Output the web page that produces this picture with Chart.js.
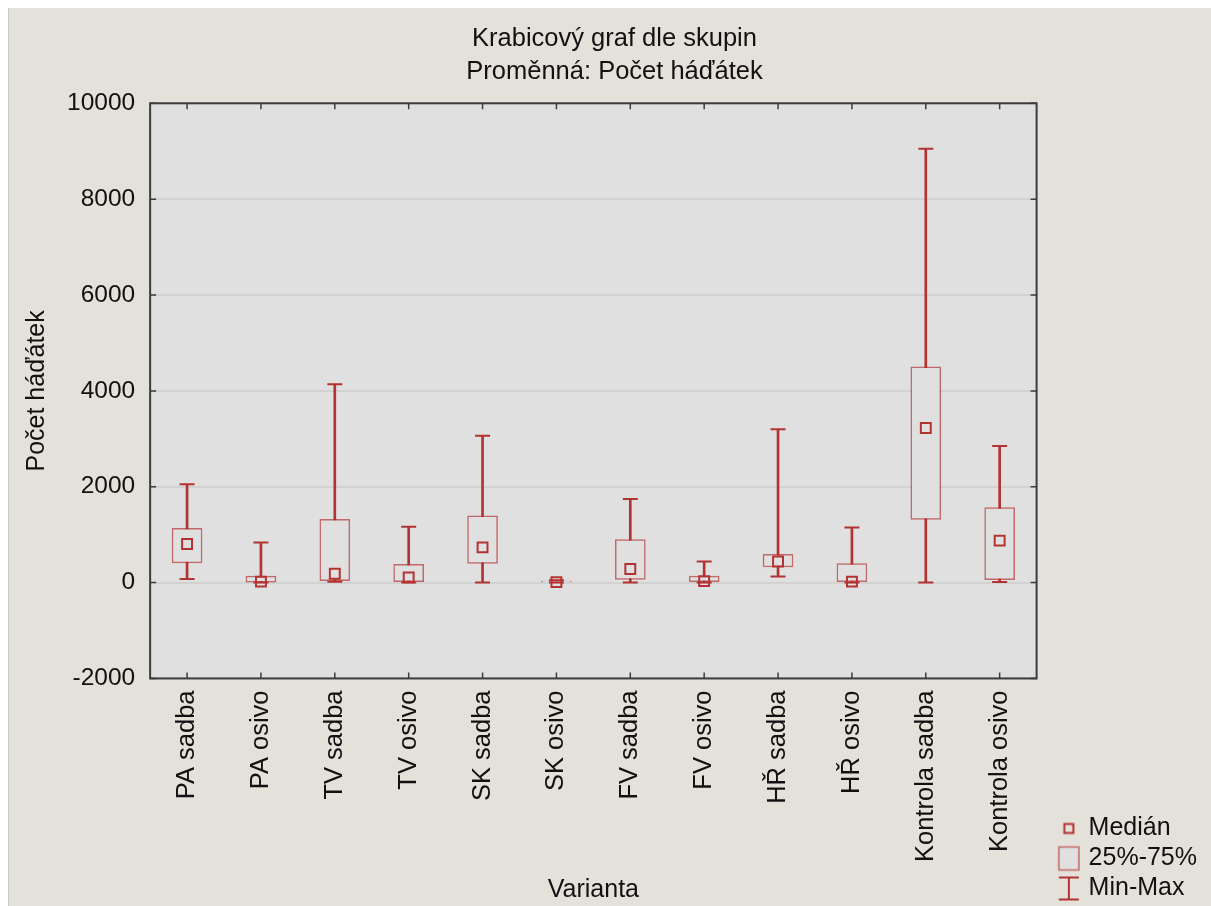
<!DOCTYPE html>
<html>
<head>
<meta charset="utf-8">
<script src="https://cdn.jsdelivr.net/npm/chart.js@4.4.0/dist/chart.umd.min.js"></script>
<style>
  html, body { margin: 0; padding: 0; background: #fff; }
  #wrap { position: absolute; left: 8px; top: 8px; border-left: 1px solid #c9c9c9; background: #e4e1da; }
  canvas { display: block; }
</style>
</head>
<body>
<div id="wrap"><canvas id="boxChart" width="1202" height="898"></canvas></div>
<script>
// values
const categories = ['PA sadba', 'PA osivo', 'TV sadba', 'TV osivo', 'SK sadba', 'SK osivo',
                    'FV sadba', 'FV osivo', 'HŘ sadba', 'HŘ osivo', 'Kontrola sadba', 'Kontrola osivo'];
const minValues = [75, 0, 20, 0, 0, 0, 0, 0, 125, 0, 0, 10];
const q1Values = [410, 10, 40, 0, 400, 0, 65, 0, 325, 0, 1320, 60];
const medianValues = [805, 20, 185, 110, 735, 10, 285, 30, 440, 20, 3225, 875];
const q3Values = [1130, 135, 1320, 380, 1395, 30, 895, 135, 590, 395, 4500, 1565];
const maxValues = [2050, 835, 4140, 1165, 3065, 50, 1745, 440, 3200, 1150, 9050, 2850];
const yTicks = [-2000, 0, 2000, 4000, 6000, 8000, 10000];

const RED = '#b33232';
const BOX_EDGE = 'rgba(176, 40, 40, 0.65)';
const PLOT_BG = '#e0e0e0';
const FRAME = '#3c3c3c';
const TEXT = '#111';
const FONT = '"Liberation Sans", Arial, sans-serif';

// small canvases used as legend symbols
function makeIcon(draw) {
    const c = document.createElement('canvas');
    c.width = 44;
    c.height = 28;
    const ctx = c.getContext('2d');
    ctx.translate(32, 14);
    draw(ctx);
    return c;
}
const medianIcon = makeIcon(ctx => {
    ctx.strokeStyle = RED;
    ctx.lineWidth = 2;
    ctx.strokeRect(-4.5, -4.5, 9, 9);
});
const boxIcon = makeIcon(ctx => {
    ctx.fillStyle = PLOT_BG;
    ctx.fillRect(-10, -11.5, 20, 23);
    ctx.strokeStyle = BOX_EDGE;
    ctx.lineWidth = 1.5;
    ctx.strokeRect(-10, -11.5, 20, 23);
});
const rangeIcon = makeIcon(ctx => {
    ctx.strokeStyle = RED;
    ctx.lineWidth = 2;
    ctx.beginPath();
    ctx.moveTo(-10, -11); ctx.lineTo(10, -11);
    ctx.moveTo(0, -11); ctx.lineTo(0, 11);
    ctx.moveTo(-10, 11); ctx.lineTo(10, 11);
    ctx.stroke();
});

// grey plot background, frame and inward tick marks
const plotFrame = {
    id: 'plotFrame',
    beforeDraw(chart) {
        const { ctx, chartArea: a } = chart;
        ctx.save();
        ctx.fillStyle = PLOT_BG;
        ctx.fillRect(a.left, a.top, a.width, a.height);
        ctx.restore();
    },
    afterDraw(chart) {
        const { ctx, chartArea: a, scales } = chart;
        const tl = 6;
        ctx.save();
        ctx.strokeStyle = FRAME;
        ctx.lineWidth = 1.5;
        ctx.beginPath();
        scales.x.ticks.forEach((t, i) => {
            const px = scales.x.getPixelForTick(i);
            ctx.moveTo(px, a.bottom); ctx.lineTo(px, a.bottom - tl);
            ctx.moveTo(px, a.top); ctx.lineTo(px, a.top + tl);
        });
        scales.y.ticks.forEach((t, i) => {
            const py = scales.y.getPixelForTick(i);
            ctx.moveTo(a.left, py); ctx.lineTo(a.left + tl, py);
            ctx.moveTo(a.right, py); ctx.lineTo(a.right - tl, py);
        });
        ctx.stroke();
        ctx.lineWidth = 2;
        ctx.strokeRect(a.left, a.top, a.width, a.height);
        ctx.restore();
    }
};

new Chart(document.getElementById('boxChart'), {
    type: 'bar',
    data: {
        labels: categories,
        datasets: [
            {
                label: 'Min-Max',
                data: minValues.map((v, i) => [v, maxValues[i]]),
                backgroundColor: RED,
                barThickness: 2,
                grouped: false,
                order: 3
            },
            {
                label: '25%-75%',
                data: q1Values.map((v, i) => [v, q3Values[i]]),
                backgroundColor: PLOT_BG,
                borderColor: BOX_EDGE,
                borderWidth: 1.5,
                borderSkipped: false,
                barThickness: 30,
                grouped: false,
                order: 2
            },
            {
                type: 'line',
                label: 'Min',
                data: minValues,
                showLine: false,
                pointStyle: 'line',
                pointRadius: 7.5,
                borderColor: RED,
                borderWidth: 2,
                order: 1
            },
            {
                type: 'line',
                label: 'Max',
                data: maxValues,
                showLine: false,
                pointStyle: 'line',
                pointRadius: 7.5,
                borderColor: RED,
                borderWidth: 2,
                order: 1
            },
            {
                type: 'line',
                label: 'Medián',
                data: medianValues,
                showLine: false,
                pointStyle: 'rect',
                pointRadius: 7,
                backgroundColor: 'rgba(0,0,0,0)',
                borderColor: RED,
                borderWidth: 2,
                order: 0
            }
        ]
    },
    options: {
        responsive: false,
        animation: false,
        events: [],
        layout: { padding: { left: 13, right: 4, top: 0, bottom: 0 } },
        scales: {
            x: {
                grid: { display: false },
                border: { display: false },
                ticks: {
                    maxRotation: 90,
                    minRotation: 90,
                    padding: 4,
                    color: TEXT,
                    font: { family: FONT, size: 25.5 }
                },
                title: {
                    display: true,
                    text: 'Varianta',
                    color: TEXT,
                    font: { family: FONT, size: 25 },
                    padding: { top: 9, bottom: 1 }
                }
            },
            y: {
                min: yTicks[0],
                max: yTicks[yTicks.length - 1],
                afterBuildTicks: scale => { scale.ticks = yTicks.map(v => ({ value: v })); },
                ticks: {
                    padding: 15,
                    color: TEXT,
                    font: { family: FONT, size: 24.5 },
                    callback: v => String(v)
                },
                grid: { color: '#d2d2d2', lineWidth: 2, drawTicks: false },
                border: { display: false },
                title: {
                    display: true,
                    text: 'Počet háďátek',
                    color: TEXT,
                    font: { family: FONT, size: 25 },
                    padding: { top: 0, bottom: 0 }
                }
            }
        },
        plugins: {
            title: {
                display: true,
                text: ['Krabicový graf dle skupin', 'Proměnná: Počet háďátek'],
                color: TEXT,
                font: { family: FONT, size: 25.5, weight: 'normal', lineHeight: 1.3 },
                padding: { top: 14, bottom: 15 }
            },
            legend: {
                position: 'right',
                align: 'end',
                labels: {
                    usePointStyle: true,
                    pointStyleWidth: 34.5,
                    padding: 5,
                    color: TEXT,
                    font: { family: FONT, size: 25 },
                    generateLabels: () => [
                        { text: 'Medián', pointStyle: medianIcon },
                        { text: '25%-75%', pointStyle: boxIcon },
                        { text: 'Min-Max', pointStyle: rangeIcon }
                    ].map(item => Object.assign(item, {
                        fillStyle: 'rgba(0,0,0,0)',
                        strokeStyle: 'rgba(0,0,0,0)',
                        lineWidth: 0,
                        hidden: false,
                        fontColor: TEXT
                    }))
                }
            },
            tooltip: { enabled: false }
        }
    },
    plugins: [plotFrame]
});
</script>
</body>
</html>
